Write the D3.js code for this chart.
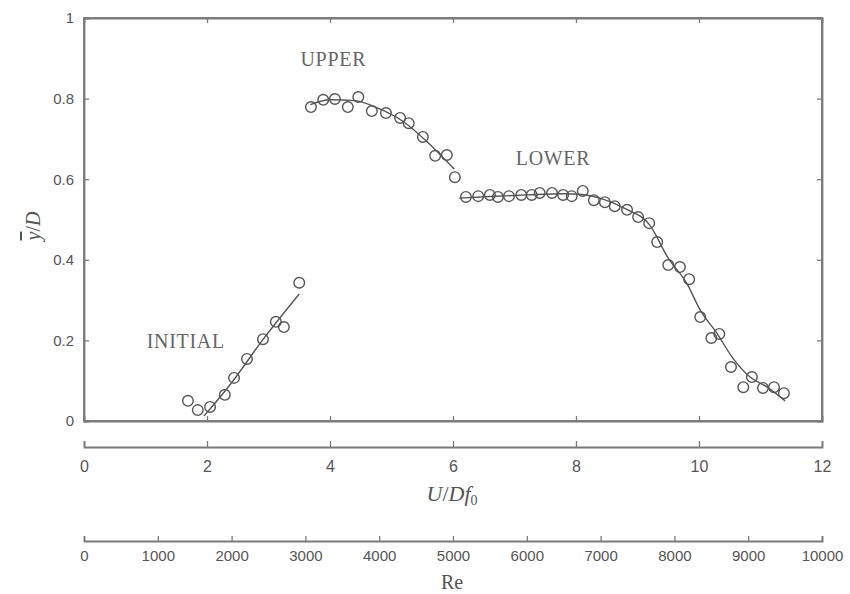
<!DOCTYPE html>
<html>
<head>
<meta charset="utf-8">
<script src="https://cdn.jsdelivr.net/npm/d3@7"></script>
<style>
  html, body { margin: 0; padding: 0; background: #fff; }
  svg { display: block; }
  .tick text { font-family: "Liberation Sans Narrow", "Liberation Sans", Arial, sans-serif; fill: #555; }
</style>
</head>
<body>
<svg id="chart" width="850" height="594"></svg>
<script>
// ---- data ----
const initialX = [1.69, 1.85, 2.05, 2.29, 2.44, 2.65, 2.91, 3.12, 3.25, 3.50];
const initialY = [0.050, 0.027, 0.035, 0.065, 0.107, 0.154, 0.203, 0.246, 0.233, 0.343];

const upperX = [3.69, 3.89, 4.08, 4.29, 4.46, 4.68, 4.91, 5.14, 5.28, 5.51, 5.71, 5.90, 6.03];
const upperY = [0.779, 0.797, 0.799, 0.779, 0.804, 0.769, 0.764, 0.752, 0.739, 0.705, 0.658, 0.660, 0.605];

const lowerX = [6.21, 6.41, 6.60, 6.73, 6.91, 7.11, 7.28, 7.41, 7.61, 7.79, 7.93, 8.11, 8.29, 8.47, 8.63, 8.83, 9.01, 9.19,
                9.32, 9.50, 9.69, 9.84, 10.02, 10.20, 10.33, 10.52, 10.72, 10.86, 11.04, 11.22, 11.38];
const lowerY = [0.556, 0.558, 0.561, 0.556, 0.558, 0.561, 0.561, 0.566, 0.566, 0.561, 0.558, 0.571, 0.548, 0.543, 0.533, 0.524, 0.506, 0.491,
                0.444, 0.387, 0.382, 0.352, 0.258, 0.206, 0.216, 0.134, 0.084, 0.109, 0.082, 0.084, 0.069];

// fitted curves
const initialFitX = [1.95, 2.4, 2.9, 3.5];
const initialFitY = [0.012, 0.095, 0.200, 0.315];
const upperFitX = [3.68, 4.0, 4.4, 4.8, 5.2, 5.6, 6.02];
const upperFitY = [0.785, 0.797, 0.795, 0.775, 0.742, 0.690, 0.625];
const lowerFitX = [6.10, 6.6, 7.2, 7.8, 8.1, 8.39, 8.8, 9.20, 9.50, 9.80, 10.02, 10.29, 10.55, 10.83, 11.11, 11.40];
const lowerFitY = [0.553, 0.557, 0.561, 0.564, 0.562, 0.553, 0.527, 0.486, 0.404, 0.342, 0.275, 0.218, 0.156, 0.109, 0.084, 0.050];

const regimeLabels = ["INITIAL", "UPPER", "LOWER"];
const regimeLabelX = [1.02, 3.52, 7.02];
const regimeLabelY = [0.182, 0.881, 0.635];

const yTicks = [0, 0.2, 0.4, 0.6, 0.8, 1];
const xTicks = [0, 2, 4, 6, 8, 10, 12];
const reTicks = [0, 1000, 2000, 3000, 4000, 5000, 6000, 7000, 8000, 9000, 10000];

// ---- drawing ----
const svg = d3.select("#chart");
const x = d3.scaleLinear().domain([0, 12]).range([84, 822]);
const y = d3.scaleLinear().domain([0, 1]).range([421, 18]);
const re = d3.scaleLinear().domain([0, 10000]).range([84, 822]);

const axisColor = "#7a7a7a";
const textColor = "#555";

function styleAxis(g) {
  g.select(".domain").attr("stroke", axisColor).attr("stroke-width", 1.8);
  g.selectAll(".tick line").attr("stroke", axisColor).attr("stroke-width", 1.3);
}

// frame
svg.append("rect")
  .attr("x", x(0)).attr("y", y(1))
  .attr("width", x(12) - x(0)).attr("height", y(0) - y(1))
  .attr("fill", "none").attr("stroke", axisColor).attr("stroke-width", 1.8);

// left axis (ticks inward)
const gl = svg.append("g").attr("transform", `translate(${x(0)},0)`)
  .call(d3.axisLeft(y).tickValues(yTicks).tickSize(-5).tickPadding(10).tickFormat(d3.format("~g")));
styleAxis(gl);
gl.selectAll(".tick text").attr("font-size", 15);

// right axis ticks inward
const gr = svg.append("g").attr("transform", `translate(${x(12)},0)`)
  .call(d3.axisRight(y).tickValues(yTicks.slice(1, -1)).tickSize(-5).tickFormat(""));
styleAxis(gr);

// bottom / top frame ticks inward
const gb = svg.append("g").attr("transform", `translate(0,${y(0)})`)
  .call(d3.axisBottom(x).tickValues(xTicks.slice(1, -1)).tickSize(-5).tickFormat(""));
styleAxis(gb);
const gt = svg.append("g").attr("transform", `translate(0,${y(1)})`)
  .call(d3.axisTop(x).tickValues(xTicks.slice(1, -1)).tickSize(-5).tickFormat(""));
styleAxis(gt);

// U/Df0 axis
const gx = svg.append("g").attr("transform", "translate(0,447)")
  .call(d3.axisBottom(x).tickValues(xTicks).tickSize(-6).tickPadding(14));
styleAxis(gx);
gx.selectAll(".tick text").attr("font-size", 16);

// Re axis
const gre = svg.append("g").attr("transform", "translate(0,541)")
  .call(d3.axisBottom(re).tickValues(reTicks).tickSize(-5).tickPadding(9).tickFormat(d3.format("d")));
styleAxis(gre);
gre.selectAll(".tick text").attr("font-size", 15);

// axis titles
const yl = svg.append("text")
  .attr("transform", "translate(40,226) rotate(-90)")
  .attr("text-anchor", "middle")
  .attr("font-family", "Liberation Serif, serif")
  .attr("font-style", "italic")
  .attr("font-size", 20)
  .attr("fill", textColor);
yl.append("tspan").style("text-decoration", "overline").text("y");
yl.append("tspan").attr("font-style", "normal").text("/");
yl.append("tspan").text("D");

const xl = svg.append("text")
  .attr("x", 452).attr("y", 501)
  .attr("text-anchor", "middle")
  .attr("font-family", "Liberation Serif, serif")
  .attr("font-style", "italic")
  .attr("font-size", 22)
  .attr("fill", textColor);
xl.append("tspan").text("U");
xl.append("tspan").attr("font-style", "normal").text("/");
xl.append("tspan").text("Df");
xl.append("tspan").attr("font-style", "normal").attr("font-size", 14).attr("dy", 4).attr("fill", textColor).text("0");

svg.append("text")
  .attr("x", 452).attr("y", 589)
  .attr("text-anchor", "middle")
  .attr("font-family", "Liberation Serif, serif")
  .attr("font-size", 20)
  .attr("fill", textColor)
  .text("Re");

// regime labels
svg.selectAll("text.regime")
  .data(regimeLabels)
  .join("text")
  .attr("class", "regime")
  .attr("x", (d, i) => x(regimeLabelX[i]))
  .attr("y", (d, i) => y(regimeLabelY[i]))
  .attr("font-family", "Liberation Serif, serif")
  .attr("font-size", 20)
  .attr("letter-spacing", 0.7)
  .attr("fill", "#666")
  .text(d => d);

// fit lines
const line = d3.line().x(d => x(d[0])).y(d => y(d[1])).curve(d3.curveMonotoneX);
[[initialFitX, initialFitY], [upperFitX, upperFitY], [lowerFitX, lowerFitY]].forEach(([xs, ys]) => {
  svg.append("path")
    .datum(xs.map((v, i) => [v, ys[i]]))
    .attr("d", line)
    .attr("fill", "none")
    .attr("stroke", "#555")
    .attr("stroke-width", 1.4);
});

// points
const pts = [];
[[initialX, initialY], [upperX, upperY], [lowerX, lowerY]].forEach(([xs, ys]) => {
  xs.forEach((v, i) => pts.push([v, ys[i]]));
});
svg.append("g").selectAll("circle")
  .data(pts)
  .join("circle")
  .attr("cx", d => x(d[0]))
  .attr("cy", d => y(d[1]))
  .attr("r", 5.3)
  .attr("fill", "none")
  .attr("stroke", "#555")
  .attr("stroke-width", 1.4);
</script>
</body>
</html>
